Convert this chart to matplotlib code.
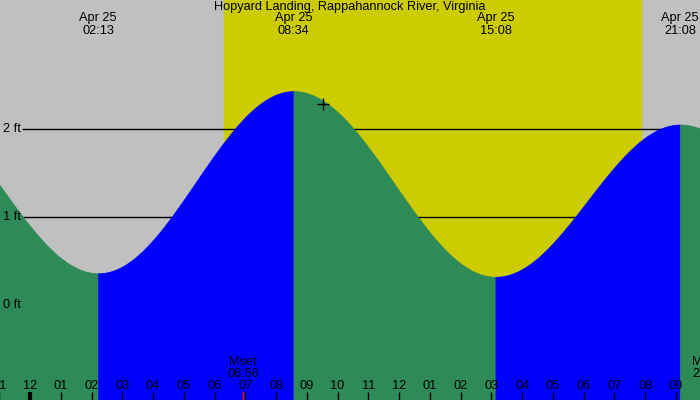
import numpy as np
import matplotlib.pyplot as plt
from matplotlib.transforms import blended_transform_factory

# tide extremes (hours from midnight Apr 25, feet); first/last are off-chart neighbours
tide_hours = [-4.1, 2.217, 8.567, 15.133, 21.133, 27.4]
tide_feet = [2.32, 0.36, 2.43, 0.32, 2.05, 0.30]
tide_labels = ["", "02:13", "08:34", "15:08", "21:08", ""]

sunrise, sunset = 6.31, 19.86
moon_hours = [6.933, 22.04]
moon_labels = ["Mset\n06:56", "Mrise\n22:02"]
now_hour, now_feet = 9.525, 2.28
level_lines = [0, 1, 2]
title = "Hopyard Landing, Rappahannock River, Virginia"

plt.rcParams['font.family'] = ['Liberation Sans', 'DejaVu Sans']
fs = 9.2

fig = plt.figure(figsize=(7, 4), dpi=100)
ax = fig.add_axes([0, 0, 1, 1])
x0, x1 = -30 / 30.76, 670 / 30.76
y0, y1 = -95 / 88, 305 / 88
ax.set_xlim(x0, x1)
ax.set_ylim(y0, y1)
ax.axis("off")

# background: night grey, daylight yellow
ax.axvspan(x0, x1, color="#c0c0c0", zorder=0)
ax.axvspan(sunrise, sunset, color="#cccc00", zorder=0)

# level lines behind the water
for lv in level_lines:
    ax.hlines(lv, 22 / 30.76 + x0, x1, color="black", lw=1, zorder=1)
    ax.text(x0 + 3 / 30.76, lv, f"{lv} ft", fontsize=fs, va="center", ha="left", zorder=5)

# cosine curve between extremes, green falling / blue rising
for i in range(len(tide_hours) - 1):
    ta, tb = tide_hours[i], tide_hours[i + 1]
    ha, hb = tide_feet[i], tide_feet[i + 1]
    t = np.linspace(ta, tb, 200)
    h = ha + (hb - ha) * (1 - np.cos(np.pi * (t - ta) / (tb - ta))) / 2
    col = "#2e8b57" if hb < ha else "#0000ff"
    ax.fill_between(t, y0, h, facecolor=col, edgecolor=col, lw=0.6, zorder=2)

# top labels
ax.text(0.5, 1 - 7 / 400, title, transform=ax.transAxes, ha="center", va="center", fontsize=fs)
for th, tl in zip(tide_hours, tide_labels):
    if tl:
        ax.text(th, y1 - 18 / 88, "Apr 25", ha="center", va="center", fontsize=fs, clip_on=False)
        ax.text(th, y1 - 31 / 88, tl, ha="center", va="center", fontsize=fs, clip_on=False)

# hour ticks
trans = blended_transform_factory(ax.transData, ax.transAxes)
for hr in range(-1, 22):
    lab = hr % 12
    lab = 12 if lab == 0 else lab
    ax.plot([hr, hr], [0, 8 / 400], color="black", lw=3 if hr == 0 else 1,
            transform=trans, zorder=4, solid_capstyle="butt")
    ax.text(hr, 14 / 400, f"{lab:02d}", transform=trans, ha="center", va="center",
            fontsize=fs, zorder=5)

# moon events
for mh, ml in zip(moon_hours, moon_labels):
    ax.plot([mh, mh], [0, 8 / 400], color="red", lw=1, transform=trans, zorder=4)
    ax.text(mh, 32 / 400, ml, transform=trans, ha="center", va="center",
            fontsize=fs, linespacing=1.0, zorder=5, clip_on=False)

ax.plot(now_hour, now_feet, marker="+", color="black", ms=8, mew=1, zorder=5)

fig.savefig("out.png", dpi=100)
